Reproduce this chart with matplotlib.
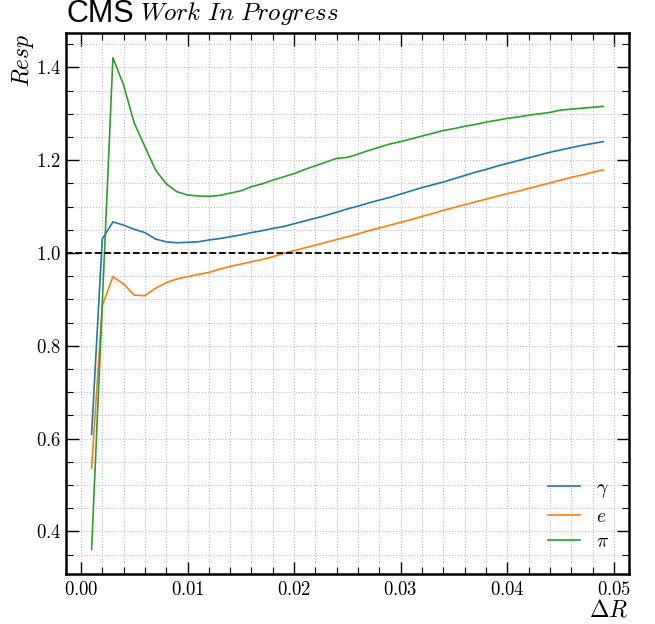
import numpy as np
import matplotlib
matplotlib.use("Agg")
import matplotlib.pyplot as plt
from matplotlib.ticker import MultipleLocator, FuncFormatter

# delta R bins, 0.001 .. 0.049
dr = [round(0.001 * i, 3) for i in range(1, 50)]

resp_gamma = [0.609, 1.030, 1.067, 1.060, 1.051, 1.044, 1.030, 1.024, 1.022, 1.023,
              1.024, 1.028, 1.031, 1.035, 1.039, 1.044, 1.048, 1.053, 1.057, 1.063,
              1.069, 1.075, 1.081, 1.088, 1.095, 1.101, 1.108, 1.114, 1.120, 1.127,
              1.134, 1.141, 1.147, 1.153, 1.160, 1.167, 1.174, 1.180, 1.187, 1.193,
              1.199, 1.205, 1.211, 1.217, 1.222, 1.227, 1.232, 1.236, 1.240]

resp_e = [0.536, 0.886, 0.949, 0.933, 0.909, 0.908, 0.924, 0.936, 0.944, 0.949,
          0.954, 0.958, 0.965, 0.971, 0.976, 0.981, 0.986, 0.992, 0.999, 1.005,
          1.011, 1.017, 1.023, 1.029, 1.035, 1.041, 1.048, 1.054, 1.060, 1.066,
          1.072, 1.079, 1.085, 1.092, 1.098, 1.104, 1.110, 1.116, 1.122, 1.128,
          1.133, 1.139, 1.145, 1.151, 1.157, 1.163, 1.168, 1.174, 1.179]

resp_pi = [0.361, 0.890, 1.421, 1.362, 1.280, 1.229, 1.179, 1.149, 1.132, 1.125,
           1.123, 1.122, 1.124, 1.129, 1.134, 1.143, 1.149, 1.157, 1.164, 1.171,
           1.180, 1.188, 1.196, 1.204, 1.206, 1.213, 1.221, 1.228, 1.235, 1.240,
           1.246, 1.252, 1.258, 1.264, 1.268, 1.273, 1.277, 1.282, 1.286, 1.290,
           1.293, 1.297, 1.300, 1.303, 1.308, 1.310, 1.312, 1.314, 1.316]

series = [(resp_gamma, r"$\gamma$"), (resp_e, r"$e$"), (resp_pi, r"$\pi$")]

plt.rcParams["mathtext.fontset"] = "cm"
plt.rcParams["font.family"] = "serif"
plt.rcParams["font.serif"] = ["DejaVu Serif"]

fig = plt.figure(figsize=(6.55, 6.24), dpi=100)
ax = fig.add_axes([0.1008, 0.0801, 0.8592, 0.8669])

for vals, lab in series:
    ax.plot(dr, vals, label=lab, linewidth=1.2)

ax.axhline(1.0, color="black", linestyle="--", linewidth=1.3)

ax.xaxis.set_major_locator(MultipleLocator(0.01))
ax.xaxis.set_minor_locator(MultipleLocator(0.002))
ax.yaxis.set_major_locator(MultipleLocator(0.2))
ax.yaxis.set_minor_locator(MultipleLocator(0.05))
ax.xaxis.set_major_formatter(FuncFormatter(lambda v, p: r"$%.2f$" % v))
ax.yaxis.set_major_formatter(FuncFormatter(lambda v, p: r"$%.1f$" % v))

ax.tick_params(which="both", direction="in", top=True, right=True, labelsize=13.5)
ax.tick_params(which="major", length=9, width=1.0)
ax.tick_params(which="minor", length=5, width=0.8)
ax.tick_params(axis="x", pad=5)
for sp in ax.spines.values():
    sp.set_linewidth(1.8)

ax.grid(which="both", linestyle=":", color="#bbbbbb", linewidth=0.8)
ax.set_axisbelow(True)

ax.set_xlabel(r"$\Delta R$", fontsize=17, loc="right", labelpad=0)
ax.set_ylabel(r"$Resp$", fontsize=17, loc="top", labelpad=0)

ax.legend(loc="lower right", frameon=False, fontsize=14, handlelength=1.65,
          labelspacing=0.38, borderaxespad=0.78, handletextpad=0.8,
          bbox_to_anchor=(1.005, 0.0))

ax.text(0.0, 1.008, "CMS", transform=ax.transAxes, fontsize=22,
        family="Liberation Sans", ha="left", va="bottom")
ax.text(0.131, 1.012, r"$Work\ In\ Progress$", transform=ax.transAxes, fontsize=18,
        ha="left", va="bottom")

fig.savefig("out.png", dpi=100)
